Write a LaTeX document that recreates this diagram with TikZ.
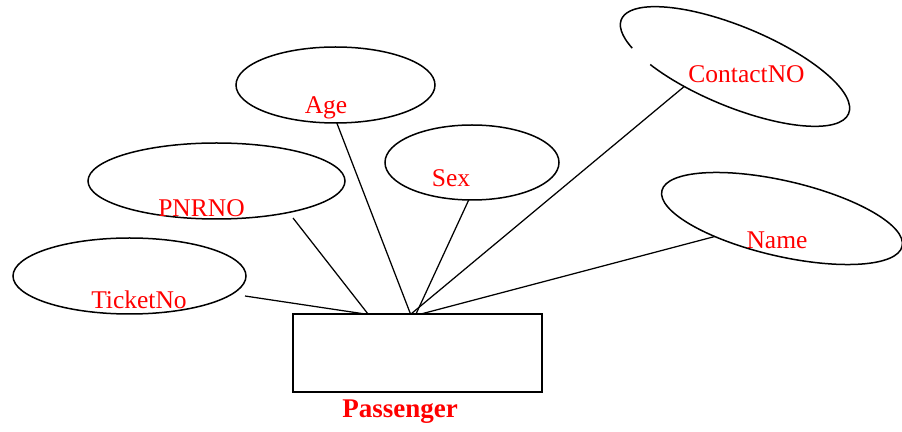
\documentclass[tikz,border=0pt]{standalone}
\usepackage{fontspec}
\setmainfont{Liberation Serif}
\usetikzlibrary{shapes.geometric}

\begin{document}
\begin{tikzpicture}[x=1pt,y=1pt,
  attr/.style={ellipse,draw,line width=1.5pt,inner sep=0pt,outer sep=0pt},
  attrlabel/.style={text=red,anchor=base,inner sep=0pt,font=\fontsize{25.5}{30}\selectfont},
  entity/.style={rectangle,draw,line width=1.4pt,inner sep=0pt,outer sep=0pt},
  entitylabel/.style={text=red,anchor=base,inner sep=0pt,font=\fontsize{27}{32}\selectfont\bfseries},
  link/.style={line width=1.25pt}]
\useasboundingbox (0,0) rectangle (902,431);

% entity
\node[entity,minimum width=249pt,minimum height=78pt] (pass) at (417.5,78) {};
\node[entitylabel] (passlabel) at (400,13) {Passenger};

% attributes
\node[attr,minimum width=233pt,minimum height=76pt] (ticket) at (129.5,155) {};
\node[attr,minimum width=257pt,minimum height=76pt] (pnr) at (216.5,250) {};
\node[attr,minimum width=199pt,minimum height=76pt] (age) at (335.5,346) {};
\node[attr,minimum width=174pt,minimum height=75pt] (sex) at (472,268.5) {};
\node[attr,minimum width=246.6pt,minimum height=75.4pt,rotate=-13] (name) at (782,212.5) {};
% ContactNO outline has a small break on its lower left
\node[ellipse,inner sep=0pt,outer sep=0pt,minimum width=246pt,minimum height=80pt,rotate=-22.5] (contact) at (735,364.5) {};
\draw[line width=1.5pt,shift={(contact.center)},rotate=-22.5]
  (230:123 and 40) arc[start angle=230,end angle=574,x radius=123,y radius=40];

% attribute names
\node[attrlabel] (ticketlabel) at (139,122) {TicketNo};
\node[attrlabel] (pnrlabel) at (201.5,214) {PNRNO};
\node[attrlabel] (agelabel) at (326,317) {Age};
\node[attrlabel] (sexlabel) at (451,244) {Sex};
\node[attrlabel] (contactlabel) at (746.5,348) {ContactNO};
\node[attrlabel] (namelabel) at (777,182) {Name};

% connector ends
\coordinate (ticketfoot) at ([shift={(115.5,-20)}]ticket.center);
\coordinate (pnrfoot) at ([shift={(76.5,-37)}]pnr.center);
\coordinate (pticket) at ([xshift=72pt]pass.north west);
\coordinate (ppnr) at ([xshift=75pt]pass.north west);
\coordinate (page) at ([xshift=117.5pt]pass.north west);
\coordinate (pcontact) at ([xshift=118pt]pass.north west);
\coordinate (psex) at ([xshift=123pt]pass.north west);
\coordinate (pname) at ([xshift=128pt]pass.north west);

% connectors
\draw[link] (ticketfoot) -- (pticket);
\draw[link] (pnrfoot) -- (ppnr);
\draw[link] (age.-88) -- (page);
\draw[link] (sex.265) -- (psex);
\draw[link] (contact.224) -- (pcontact);
\draw[link] (name.208) -- (pname);
\end{tikzpicture}
\end{document}
